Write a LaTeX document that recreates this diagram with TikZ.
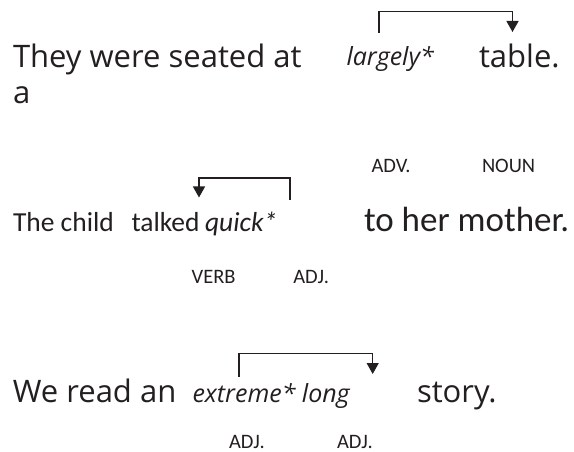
\documentclass[tikz,border=0pt]{standalone}
\usepackage{fontspec}
\usetikzlibrary{arrows.meta}
\newfontfamily\osans{Open Sans}
\newfontfamily\calib{Carlito}
\definecolor{ink}{HTML}{231F20}
\tikzset{
  txt/.style={anchor=base west, inner sep=0pt, outer sep=0pt, text=ink},
  big/.style={txt, font=\osans\fontsize{31}{37}\selectfont},
  bigit/.style={txt, font=\osans\itshape\fontsize{25}{30}\selectfont},
  cal/.style={txt, font=\calib\fontsize{27.5}{33}\selectfont},
  calit/.style={txt, font=\calib\itshape\fontsize{27.5}{33}\selectfont},
  calbig/.style={txt, font=\calib\fontsize{35}{42}\selectfont},
  tag/.style={txt, font=\calib\fontsize{20.5}{24}\selectfont},
  link/.style={draw=ink, line width=1.3pt, -{Triangle[length=11pt,width=12pt]}}
}
\begin{document}
\begin{tikzpicture}[x=1pt,y=-1pt]
\useasboundingbox (0,0) rectangle (574,452);
% sentence 1
\node[big] (s1) at (13,68) {They were seated at};
\node[big] (s1a) at (13,103.5) {a};
\node[bigit] (largely) at (346.5,66) {largely*};
\node[big] (table) at (479,68) {table.};
\coordinate (a1s) at (379,33);
\coordinate (a1e) at (512.5,32);
\draw[link] (a1s) -- (379,11.5) -| (a1e);
% sentence 2
\node[tag] (adv) at (371.5,172) {ADV.};
\node[tag] (noun) at (482,172) {NOUN};
\node[cal] (child) at (13,231.5) {The child};
\node[cal] (talked) at (131.5,231.5) {talked};
\node[calit] (quick) at (205,231.5) {quick*};
\node[calbig] (mother) at (364,231.5) {to her mother.};
\node[tag] (verb) at (191.7,283) {VERB};
\node[tag] (adj1) at (293.3,283) {ADJ.};
\coordinate (a2s) at (290,200);
\coordinate (a2e) at (199,197.5);
\draw[link] (a2s) -- (290,178) -| (a2e);
% sentence 3
\node[big] (s3) at (12.8,402) {We read an};
\node[bigit] (extreme) at (192.5,402) {extreme* long};
\node[big] (story) at (417,402) {story.};
\node[tag] (adj2) at (229,448) {ADJ.};
\node[tag] (adj3) at (337,448) {ADJ.};
\coordinate (a3s) at (239,377);
\coordinate (a3e) at (372.7,374);
\draw[link] (a3s) -- (239,353.3) -| (a3e);
\end{tikzpicture}
\end{document}
